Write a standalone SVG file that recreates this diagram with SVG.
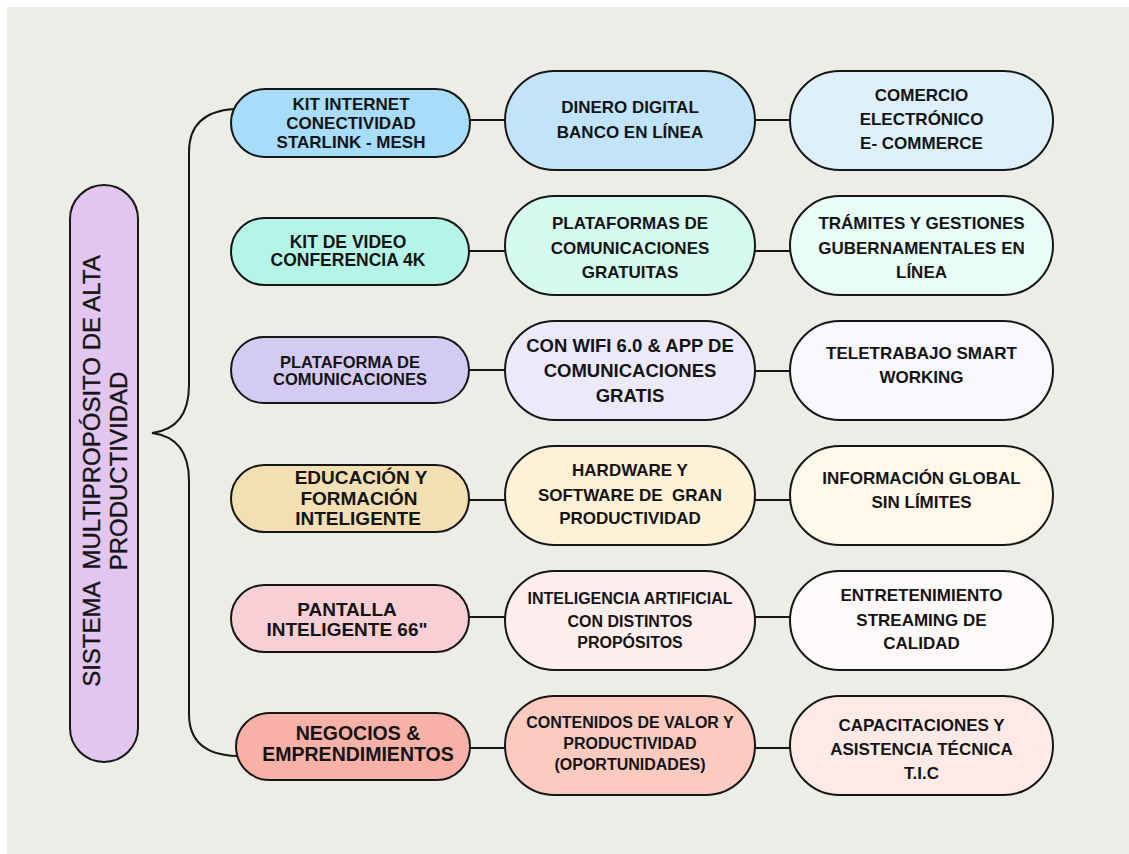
<svg xmlns="http://www.w3.org/2000/svg" width="1129" height="854" viewBox="0 0 1129 854">
<style>
.n{stroke:#161616;stroke-width:2}
.t{font-family:"Liberation Sans",Arial,sans-serif;font-weight:bold;fill:#141414;text-anchor:middle}
.c{fill:none;stroke:#161616;stroke-width:2}
.pre{white-space:pre}
.r{font-family:"Liberation Sans",Arial,sans-serif;font-size:24px;fill:#141414;stroke:#141414;stroke-width:0.35;text-anchor:middle}
</style>
<rect x="0" y="0" width="1129" height="854" fill="#ffffff"/>
<rect x="7" y="7" width="1122" height="847" fill="#EDEDE7"/>
<g id="connectors">
<path class="c" d="M234,109 C204,111 189,126 189,152 L189,385 C189,415 176,430 152,433 C176,436 189,451 189,481 L189,714 C189,740 204,755 237,756"/>
<line class="c" x1="470" y1="120" x2="505" y2="120"/>
<line class="c" x1="469" y1="251" x2="505" y2="251"/>
<line class="c" x1="469" y1="370" x2="505" y2="370"/>
<line class="c" x1="469" y1="500" x2="505" y2="500"/>
<line class="c" x1="469" y1="617" x2="505" y2="617"/>
<line class="c" x1="470" y1="748" x2="505" y2="748"/>
<line class="c" x1="755" y1="120" x2="790" y2="120"/>
<line class="c" x1="755" y1="251" x2="790" y2="251"/>
<line class="c" x1="755" y1="371" x2="790" y2="371"/>
<line class="c" x1="755" y1="500" x2="790" y2="500"/>
<line class="c" x1="755" y1="617" x2="790" y2="617"/>
<line class="c" x1="755" y1="748" x2="790" y2="748"/>
</g>
<g id="root">
<rect class="n" x="70" y="185" width="68" height="577" rx="34" fill="#E2C6F0"/>
<text class="r pre" transform="rotate(-90)" x="-471" y="100">SISTEMA  MULTIPROPÓSITO DE ALTA</text>
<text class="r" transform="rotate(-90)" x="-471" y="127">PRODUCTIVIDAD</text>
</g>
<g id="n1a"><rect class="n" x="231" y="89" width="239" height="68" rx="34" fill="#A8DCFB"/>
<text class="t" font-size="17"><tspan x="351" y="110">KIT INTERNET</tspan><tspan x="351" y="129">CONECTIVIDAD</tspan><tspan x="351" y="148">STARLINK - MESH</tspan></text></g>
<g id="n1b"><rect class="n" x="505" y="71" width="250" height="99" rx="49.5" fill="#C2E4FB"/>
<text class="t" font-size="17"><tspan x="630" y="113">DINERO DIGITAL</tspan><tspan x="630" y="138">BANCO EN LÍNEA</tspan></text></g>
<g id="n1c"><rect class="n" x="790" y="71" width="263" height="99" rx="49.5" fill="#DDF0FC"/>
<text class="t" font-size="17"><tspan x="921.5" y="101">COMERCIO</tspan><tspan x="921.5" y="125">ELECTRÓNICO</tspan><tspan x="921.5" y="149">E- COMMERCE</tspan></text></g>

<g id="n2a"><rect class="n" x="231" y="218" width="238" height="67" rx="33.5" fill="#B5F5E8"/>
<text class="t" font-size="17.5"><tspan x="348" y="248">KIT DE VIDEO</tspan><tspan x="348" y="266">CONFERENCIA 4K</tspan></text></g>
<g id="n2b"><rect class="n" x="505" y="196" width="250" height="99" rx="49.5" fill="#D5FBF1"/>
<text class="t" font-size="17"><tspan x="630" y="229">PLATAFORMAS DE</tspan><tspan x="630" y="254">COMUNICACIONES</tspan><tspan x="630" y="278">GRATUITAS</tspan></text></g>
<g id="n2c"><rect class="n" x="790" y="196" width="263" height="99" rx="49.5" fill="#E8FCF8"/>
<text class="t" font-size="17"><tspan x="921.5" y="229">TRÁMITES Y GESTIONES</tspan><tspan x="921.5" y="254">GUBERNAMENTALES EN</tspan><tspan x="921.5" y="278">LÍNEA</tspan></text></g>

<g id="n3a"><rect class="n" x="231" y="337" width="238" height="66" rx="33" fill="#D4CBF4"/>
<text class="t" font-size="16.5"><tspan x="350" y="368">PLATAFORMA DE</tspan><tspan x="350" y="385">COMUNICACIONES</tspan></text></g>
<g id="n3b"><rect class="n" x="505" y="321" width="250" height="99" rx="49.5" fill="#ECE9FB"/>
<text class="t" font-size="18.5"><tspan x="630" y="352">CON WIFI 6.0 &amp; APP DE</tspan><tspan x="630" y="377">COMUNICACIONES</tspan><tspan x="630" y="402">GRATIS</tspan></text></g>
<g id="n3c"><rect class="n" x="790" y="321" width="263" height="99" rx="49.5" fill="#F8F7FD"/>
<text class="t" font-size="17"><tspan x="921.5" y="359">TELETRABAJO SMART</tspan><tspan x="921.5" y="383">WORKING</tspan></text></g>

<g id="n4a"><rect class="n" x="231" y="465" width="238" height="67" rx="33.5" fill="#F2DFB4"/>
<text class="t" font-size="19"><tspan x="361" y="484">EDUCACIÓN Y</tspan><tspan x="359" y="505">FORMACIÓN</tspan><tspan x="358" y="525">INTELIGENTE</tspan></text></g>
<g id="n4b"><rect class="n" x="505" y="446" width="250" height="99" rx="49.5" fill="#FDF1D8"/>
<text class="t" font-size="17"><tspan x="630" y="476">HARDWARE Y</tspan><tspan class="pre" x="630" y="501">SOFTWARE DE  GRAN</tspan><tspan x="630" y="524">PRODUCTIVIDAD</tspan></text></g>
<g id="n4c"><rect class="n" x="790" y="446" width="263" height="99" rx="49.5" fill="#FEF8EA"/>
<text class="t" font-size="17"><tspan x="921.5" y="484">INFORMACIÓN GLOBAL</tspan><tspan x="921.5" y="508">SIN LÍMITES</tspan></text></g>

<g id="n5a"><rect class="n" x="231" y="585" width="238" height="67" rx="33.5" fill="#F8CFD4"/>
<text class="t" font-size="19"><tspan x="347" y="616">PANTALLA</tspan><tspan x="347" y="636">INTELIGENTE 66"</tspan></text></g>
<g id="n5b"><rect class="n" x="505" y="571" width="250" height="99" rx="49.5" fill="#FDEEEE"/>
<text class="t" font-size="16"><tspan x="630" y="604">INTELIGENCIA ARTIFICIAL</tspan><tspan x="630" y="627">CON DISTINTOS</tspan><tspan x="630" y="648">PROPÓSITOS</tspan></text></g>
<g id="n5c"><rect class="n" x="790" y="571" width="263" height="99" rx="49.5" fill="#FEFAF9"/>
<text class="t" font-size="17"><tspan x="921.5" y="601">ENTRETENIMIENTO</tspan><tspan x="921.5" y="626">STREAMING DE</tspan><tspan x="921.5" y="649">CALIDAD</tspan></text></g>

<g id="n6a"><rect class="n" x="236" y="713" width="234" height="67" rx="33.5" fill="#F7B1A6"/>
<text class="t" font-size="19.5"><tspan x="358" y="740">NEGOCIOS &amp;</tspan><tspan x="358" y="761">EMPRENDIMIENTOS</tspan></text></g>
<g id="n6b"><rect class="n" x="505" y="696" width="250" height="99" rx="49.5" fill="#FDCAC0"/>
<text class="t" font-size="16"><tspan x="630" y="728">CONTENIDOS DE VALOR Y</tspan><tspan x="630" y="749">PRODUCTIVIDAD</tspan><tspan x="630" y="770">(OPORTUNIDADES)</tspan></text></g>
<g id="n6c"><rect class="n" x="790" y="696" width="263" height="99" rx="49.5" fill="#FDEAE6"/>
<text class="t" font-size="17"><tspan x="921.5" y="731">CAPACITACIONES Y</tspan><tspan x="921.5" y="755">ASISTENCIA TÉCNICA</tspan><tspan x="921.5" y="779">T.I.C</tspan></text></g>
</svg>
